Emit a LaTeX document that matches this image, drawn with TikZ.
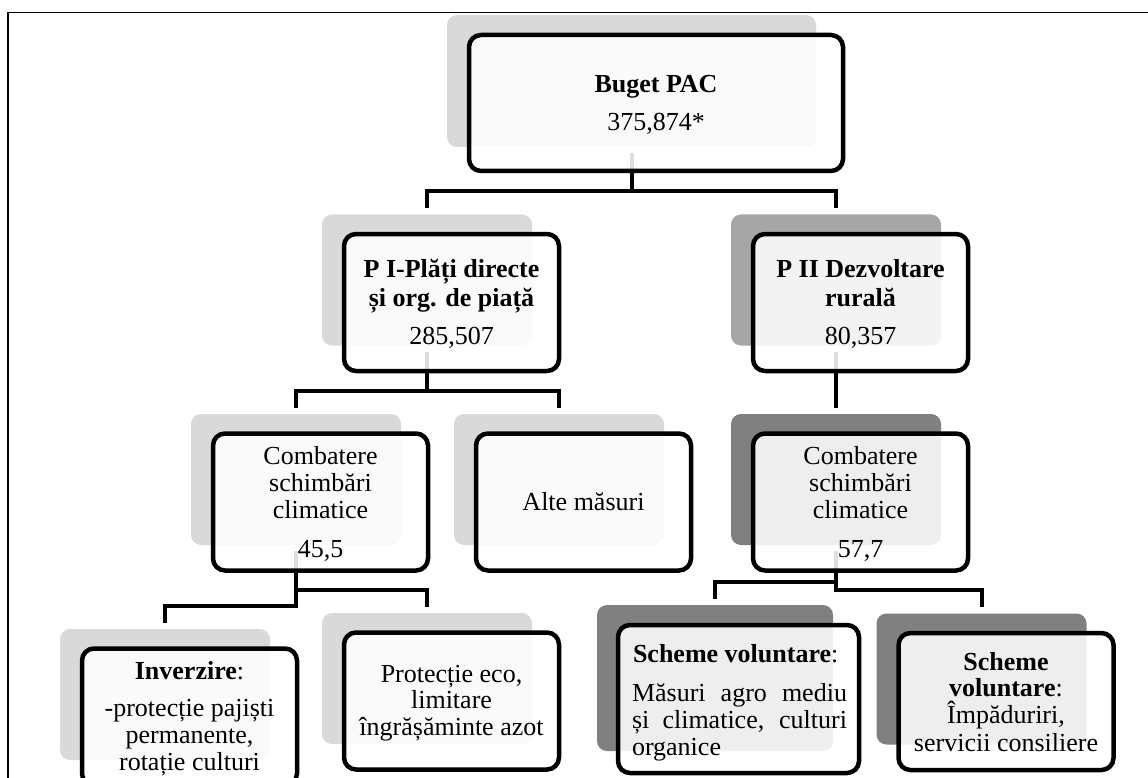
\documentclass[tikz,border=0pt]{standalone}
\usepackage{fontspec}
\setmainfont{Liberation Serif}
\definecolor{shA}{HTML}{D9D9D9}
\definecolor{shB}{HTML}{A6A6A6}
\definecolor{shC}{HTML}{808080}
\begin{document}
\begin{tikzpicture}[x=1pt,y=-1pt,
  shad/.style={rounded corners=10pt, inner sep=0pt, outer sep=0pt, minimum width=210pt, minimum height=131pt},
  boxnode/.style={draw=black, line width=4.5pt, rounded corners=12pt, fill=white, fill opacity=0.87, inner sep=0pt, outer sep=0pt, minimum width=215pt, minimum height=137pt},
  conn/.style={draw=black, line width=4pt, line join=miter},
  txt/.style={font=\fontsize{26}{27}\selectfont, inner sep=0pt, outer sep=0pt, anchor=base},
  txtl/.style={txt, anchor=base west}]
\useasboundingbox (0,0) rectangle (1148,778);
\clip (0,0) rectangle (1148,778);
\fill[white] (0,0) rectangle (1148,778);
% frame
\draw[line width=1.5pt] (8,800) -- (8,12.5) -- (1170,12.5);
% shadows
\node[shad, fill=shA, minimum width=369pt, minimum height=132pt] (sRoot) at (631.5,81) {};
\node[shad, fill=shA] (sPI) at (427,280) {};
\node[shad, fill=shB] (sPII) at (836,280) {};
\node[shad, fill=shA] (sCL) at (296,479.5) {};
\node[shad, fill=shA] (sAlte) at (559,479.5) {};
\node[shad, fill=shC] (sCR) at (836,479.5) {};
\node[shad, fill=shA] (sInv) at (165,694.5) {};
\node[shad, fill=shA] (sProt) at (427,678.5) {};
\node[shad, fill=shC, minimum width=236pt, minimum height=146pt] (sSL) at (715,678) {};
\node[shad, fill=shC] (sSR) at (981.5,679) {};
% connectors
\draw[conn] ([yshift=-6pt]sRoot.south) |- ([yshift=23.5pt]sPI.north) -- ([yshift=6.5pt]sPI.north);
\draw[conn] ([yshift=-6pt]sRoot.south) |- ([yshift=23.5pt]sPII.north) -- ([yshift=6.5pt]sPII.north);
\draw[conn] ([yshift=-6pt]sPI.south) |- ([yshift=23.5pt]sCL.north) -- ([yshift=6.5pt]sCL.north);
\draw[conn] ([yshift=-6pt]sPI.south) |- ([yshift=23.5pt]sAlte.north) -- ([yshift=6.5pt]sAlte.north);
\draw[conn] ([yshift=-6pt]sPII.south) -- ([yshift=6.5pt]sCR.north);
\draw[conn] ([yshift=-6pt]sCL.south) |- ([yshift=23.5pt]sInv.north) -- ([yshift=6.5pt]sInv.north);
\draw[conn] ([yshift=-6pt]sCL.south) |- ([yshift=23.5pt]sProt.north) -- ([yshift=6.5pt]sProt.north);
\draw[conn] ([yshift=-6pt]sCR.south) |- ([yshift=23.5pt]sSL.north) -- ([yshift=6.5pt]sSL.north);
\draw[conn] ([yshift=-6pt]sCR.south) |- ([yshift=23.5pt]sSR.north) -- ([yshift=6.5pt]sSR.north);
% boxes
\node[boxnode, minimum width=374pt, minimum height=136pt] (bRoot) at ([xshift=24.5pt,yshift=-22pt]sRoot.center) {};
\node[boxnode] (bPI) at ([xshift=24.5pt,yshift=-22.5pt]sPI.center) {};
\node[boxnode] (bPII) at ([xshift=24.5pt,yshift=-22.5pt]sPII.center) {};
\node[boxnode] (bCL) at ([xshift=24.5pt,yshift=-22.5pt]sCL.center) {};
\node[boxnode] (bAlte) at ([xshift=24.5pt,yshift=-22.5pt]sAlte.center) {};
\node[boxnode] (bCR) at ([xshift=24.5pt,yshift=-22.5pt]sCR.center) {};
\node[boxnode] (bInv) at ([xshift=24.5pt,yshift=-22.5pt]sInv.center) {};
\node[boxnode] (bProt) at ([xshift=24.5pt,yshift=-22.5pt]sProt.center) {};
\node[boxnode, minimum width=241pt, minimum height=148pt] (bSL) at ([xshift=23.5pt,yshift=-21pt]sSL.center) {};
\node[boxnode] (bSR) at ([xshift=24.5pt,yshift=-22.5pt]sSR.center) {};
% texts
\node[txt] (tR1) at (656,93) {\textbf{Buget PAC}};
\node[txt] (tR2) at (656,131) {375,874*};
\node[txt] (tPI1) at (451.5,277) {\textbf{P I-Plăți directe}};
\node[txt] (tPI2) at (451.5,306) {\textbf{și org. de piață}};
\node[txt] (tPI3) at (451.5,344) {285,507};
\node[txt] (tPII1) at (860.5,277) {\textbf{P II Dezvoltare}};
\node[txt] (tPII2) at (860.5,306) {\textbf{rurală}};
\node[txt] (tPII3) at (860.5,344) {80,357};
\node[txt] (tCL1) at (320.5,464) {Combatere};
\node[txt] (tCL2) at (320.5,491) {schimbări};
\node[txt] (tCL3) at (320.5,518) {climatice};
\node[txt] (tCL4) at (320.5,557) {45,5};
\node[txt] (tAlte) at (583.5,510) {Alte măsuri};
\node[txt] (tCR1) at (860.5,464) {Combatere};
\node[txt] (tCR2) at (860.5,491) {schimbări};
\node[txt] (tCR3) at (860.5,518) {climatice};
\node[txt] (tCR4) at (860.5,557) {57,7};
\node[txt] (tInv1) at (189.5,679) {\textbf{Inverzire}:};
\node[txt] (tInv2) at (189.5,716) {-protecție pajiști};
\node[txt] (tInv3) at (189.5,743) {permanente,};
\node[txt] (tInv4) at (189.5,770) {rotație culturi};
\node[txt] (tProt1) at (451.5,682) {Protecție eco,};
\node[txt] (tProt2) at (451.5,708) {limitare};
\node[txt] (tProt3) at (451.5,735) {îngrășăminte azot};
\node[txtl] (tSL1) at (633,662) {\textbf{Scheme voluntare}:};
\node[txtl] (tSL2) at (632,701) {\makebox[215pt][s]{Măsuri agro mediu}};
\node[txtl] (tSL3) at (632,728) {\makebox[215pt][s]{și climatice, culturi}};
\node[txtl] (tSL4) at (632,755) {organice};
\node[txt] (tSR1) at (1006,670) {\textbf{Scheme}};
\node[txt] (tSR2) at (1006,696) {\textbf{voluntare}:};
\node[txt] (tSR3) at (1006,723) {Împăduriri,};
\node[txt] (tSR4) at (1006,751) {servicii consiliere};
\end{tikzpicture}
\end{document}
